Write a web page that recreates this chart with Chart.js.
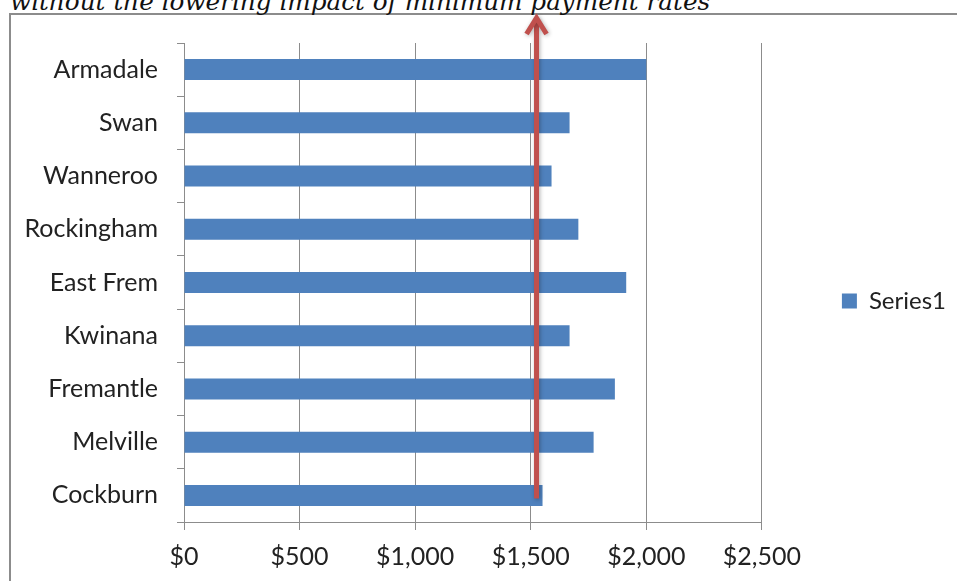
<!DOCTYPE html>
<html>
<head>
<meta charset="utf-8">
<script src="https://cdn.jsdelivr.net/npm/chart.js@4"></script>
<style>
  html, body { margin: 0; padding: 0; background: #fff; overflow: hidden; }
  body { width: 957px; height: 581px; position: relative; }
  #marco { position: absolute; left: 9px; top: 13px; width: 980px; height: 600px; border: 2px solid #8c8c8c; box-sizing: border-box; }
  #titulo { position: absolute; left: 10px; top: -10px; font: italic 24.7px "DejaVu Serif"; line-height: 24px; color: #111; white-space: nowrap; }
  #lienzo { position: absolute; left: 0; top: 0; width: 957px; height: 581px; }
</style>
</head>
<body>
<div id="marco"></div>
<div id="titulo">without the lowering impact of minimum payment rates</div>
<div id="lienzo"><canvas id="grafico"></canvas></div>
<script>
const categorias = ['Armadale', 'Swan', 'Wanneroo', 'Rockingham', 'East Frem', 'Kwinana', 'Fremantle', 'Melville', 'Cockburn'];
const valores = [2000, 1668, 1590, 1706, 1913, 1668, 1864, 1772, 1551];
const ticksX = [0, 500, 1000, 1500, 2000, 2500];
const nombreSerie = 'Series1';
const valorFlecha = 1525;

const fuente = { family: 'Lato, "Open Sans", sans-serif', size: 25 };
const gris = '#8c8c8c';

// formato $1,000
const dinero = v => '$' + String(v).replace(/\B(?=(\d{3})+(?!\d))/g, ',');

// las etiquetas del eje x se salen de su caja, no recortarlas
const sinRecorte = {
  id: 'sinRecorte',
  afterLayout(chart) {
    chart.scales.x.bottom = chart.height;
  }
};

// flecha roja vertical sobre el grafico
const flecha = {
  id: 'flecha',
  afterDatasetsDraw(chart) {
    const { ctx, scales } = chart;
    const x = scales.x.getPixelForValue(valorFlecha);
    const yBase = scales.y.getPixelForValue(categorias.length - 1) + 3;
    const yPunta = 16;
    ctx.save();
    ctx.strokeStyle = '#c0504d';
    ctx.lineWidth = 5;
    ctx.shadowColor = 'rgba(0,0,0,0.3)';
    ctx.shadowBlur = 4;
    ctx.shadowOffsetX = 1;
    ctx.shadowOffsetY = 1;
    ctx.beginPath();
    ctx.moveTo(x, yBase);
    ctx.lineTo(x, yPunta + 3);
    ctx.stroke();
    ctx.lineJoin = 'miter';
    ctx.beginPath();
    ctx.moveTo(x - 10, yPunta + 18);
    ctx.lineTo(x, yPunta + 2);
    ctx.lineTo(x + 10, yPunta + 18);
    ctx.stroke();
    ctx.restore();
  }
};

const ctx = document.getElementById('grafico').getContext('2d');
new Chart(ctx, {
  type: 'bar',
  data: {
    labels: categorias,
    datasets: [{
      label: nombreSerie,
      data: valores,
      backgroundColor: '#4f81bd',
      borderWidth: 0,
      barPercentage: 0.395,
      categoryPercentage: 1
    }]
  },
  options: {
    indexAxis: 'y',
    responsive: true,
    maintainAspectRatio: false,
    animation: false,
    layout: { padding: { left: 10, right: 1, top: 43, bottom: 22 } },
    plugins: {
      tooltip: { enabled: false },
      legend: {
        position: 'right',
        labels: {
          font: { family: fuente.family, size: 24 },
          color: '#222',
          boxWidth: 15,
          boxHeight: 15,
          padding: 80
        }
      }
    },
    scales: {
      x: {
        type: 'linear',
        min: 0,
        max: 2500,
        afterBuildTicks: s => { s.ticks = ticksX.map(v => ({ value: v })); },
        afterFit: s => { s.height = 37; },
        ticks: {
          font: fuente,
          color: '#222',
          padding: 12,
          callback: v => dinero(v)
        },
        grid: { color: gris, lineWidth: 1, tickLength: 8, drawTicks: true },
        border: { color: gris, width: 1 }
      },
      y: {
        afterFit: s => { s.width = 174; },
        ticks: { font: fuente, color: '#222', padding: 19 },
        grid: { offset: true, drawOnChartArea: false, color: gris, tickLength: 7 },
        border: { color: gris, width: 1 }
      }
    }
  },
  plugins: [sinRecorte, flecha]
});
</script>
</body>
</html>
